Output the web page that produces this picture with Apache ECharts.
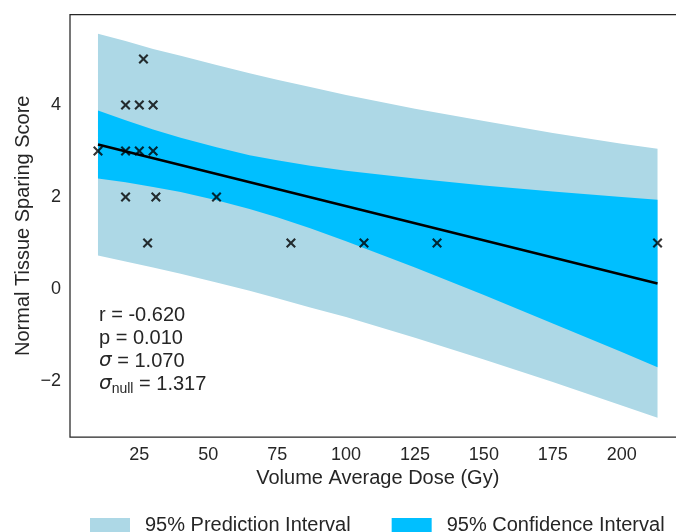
<!DOCTYPE html>
<html>
<head>
<meta charset="utf-8">
<script src="https://cdn.jsdelivr.net/npm/echarts@6/dist/echarts.min.js"></script>
<style>
  html, body { margin: 0; padding: 0; background: #fff; overflow: hidden; }
  /* the original figure is cropped on the right, so the canvas runs past the window */
  #chart { width: 686px; height: 532px; }
</style>
</head>
<body>
<div id="chart"></div>
<script>
// measured points
const pointX = [10, 20, 20, 20, 25, 25, 30, 30, 26.5, 31, 28, 53, 80, 106.5, 133, 213];
const pointY = [3, 4, 3, 2, 4, 3, 4, 3, 5, 2, 1, 2, 1, 1, 1, 1];

// fitted line ends
const fitX = [10, 213];
const fitY = [3.14, 0.12];

// band edges
const bandX = [10, 20, 30, 40, 53, 65, 75, 87, 100, 125, 150, 175, 200, 213];
const piLow = [0.73, 0.60, 0.47, 0.33, 0.14, -0.04, -0.20, -0.40, -0.61, -1.06, -1.53, -2.02, -2.53, -2.80];
const piHigh = [5.55, 5.39, 5.22, 5.07, 4.87, 4.69, 4.55, 4.39, 4.22, 3.92, 3.65, 3.39, 3.16, 3.05];
const ciLow = [2.40, 2.32, 2.22, 2.11, 1.93, 1.74, 1.56, 1.32, 1.04, 0.47, -0.13, -0.75, -1.37, -1.70];
const ciHigh = [3.88, 3.67, 3.47, 3.29, 3.08, 2.91, 2.80, 2.68, 2.57, 2.40, 2.25, 2.12, 2.00, 1.94];

const xTicks = [25, 50, 75, 100, 125, 150, 175, 200];
const yTicks = [-2, 0, 2, 4];

const statLines = [
  "r = -0.620",
  "p = 0.010",
  "{s|σ} = 1.070",
  "{s|σ}{n|null} = 1.317",
];

const textColor = "#262626";
const piColor = "#ADD8E6";
const ciColor = "#00BFFF";

const chart = echarts.init(document.getElementById("chart"));

function band(name, color, lo, hi) {
  return {
    name: name,
    type: "custom",
    silent: true,
    itemStyle: { color: color },
    data: bandX.map((x, i) => [x, lo[i], hi[i]]),
    encode: { x: 0, y: [1, 2] },
    renderItem(params, api) {
      if (params.dataIndex !== 0) return null;
      const upper = bandX.map((x, i) => api.coord([x, hi[i]]));
      const lower = bandX.map((x, i) => api.coord([x, lo[i]])).reverse();
      return {
        type: "polygon",
        shape: { points: upper.concat(lower) },
        style: { fill: color },
      };
    },
  };
}

// X marker as a filled shape
const crossPath =
  "path://M1.5,0 L5,3.5 L8.5,0 L10,1.5 L6.5,5 L10,8.5 L8.5,10 L5,6.5 L1.5,10 L0,8.5 L3.5,5 L0,1.5 Z";

chart.setOption({
  animation: false,
  textStyle: { fontFamily: "Liberation Sans, Arial, sans-serif" },
  grid: {
    left: 70,
    top: 14.5,
    right: 0.5,
    bottom: 95,
    show: true,
    borderColor: textColor,
    borderWidth: 1.25,
  },
  xAxis: {
    type: "value",
    min: -0.15,
    max: 223.15,
    name: "Volume Average Dose (Gy)",
    nameLocation: "middle",
    nameGap: 31,
    nameMoveOverlap: false,
    nameTextStyle: { fontSize: 20, color: textColor },
    axisLine: { show: false },
    axisTick: { show: false },
    splitLine: { show: false },
    axisLabel: {
      customValues: xTicks,
      fontSize: 18,
      color: textColor,
      margin: 9,
    },
  },
  yAxis: {
    type: "value",
    min: -3.2175,
    max: 5.9675,
    name: "Normal Tissue Sparing Score",
    nameLocation: "middle",
    nameGap: 37,
    nameMoveOverlap: false,
    nameTextStyle: { fontSize: 20, color: textColor },
    axisLine: { show: false },
    axisTick: { show: false },
    splitLine: { show: false },
    axisLabel: {
      customValues: yTicks,
      fontSize: 18,
      color: textColor,
      margin: 9,
      formatter: (v) => (v < 0 ? "\u2212" + Math.abs(v) : String(v)),
    },
  },
  legend: {
    left: 90,
    top: 515,
    padding: 0,
    itemWidth: 40,
    itemHeight: 14,
    itemGap: 41,
    icon: "rect",
    textStyle: { fontSize: 20, color: textColor, padding: [0, 0, 0, 10] },
    data: [
      { name: "95% Prediction Interval", itemStyle: { color: piColor } },
      { name: "95% Confidence Interval", itemStyle: { color: ciColor } },
    ],
  },
  graphic: statLines.map((t, i) => ({
    type: "text",
    left: 99,
    top: 303 + i * 23,
    z: 100,
    style: {
      text: t,
      fill: textColor,
      font: "20px Liberation Sans, Arial, sans-serif",
      lineHeight: 24,
      rich: {
        s: {
          fontFamily: "DejaVu Sans",
          fontStyle: "italic",
          fontSize: 20,
          lineHeight: 24,
          fill: textColor,
        },
        n: {
          fontFamily: "Liberation Sans, Arial, sans-serif",
          fontSize: 14,
          lineHeight: 14,
          verticalAlign: "bottom",
          fill: textColor,
        },
      },
    },
  })),
  series: [
    band("95% Prediction Interval", piColor, piLow, piHigh),
    band("95% Confidence Interval", ciColor, ciLow, ciHigh),
    {
      type: "line",
      data: fitX.map((x, i) => [x, fitY[i]]),
      showSymbol: false,
      lineStyle: { color: "#000", width: 2.5 },
      z: 5,
      silent: true,
    },
    {
      type: "scatter",
      data: pointX.map((x, i) => [x, pointY[i]]),
      symbol: crossPath,
      symbolSize: 10,
      itemStyle: { color: "#000" },
      z: 6,
      silent: true,
    },
  ],
});
</script>
</body>
</html>
